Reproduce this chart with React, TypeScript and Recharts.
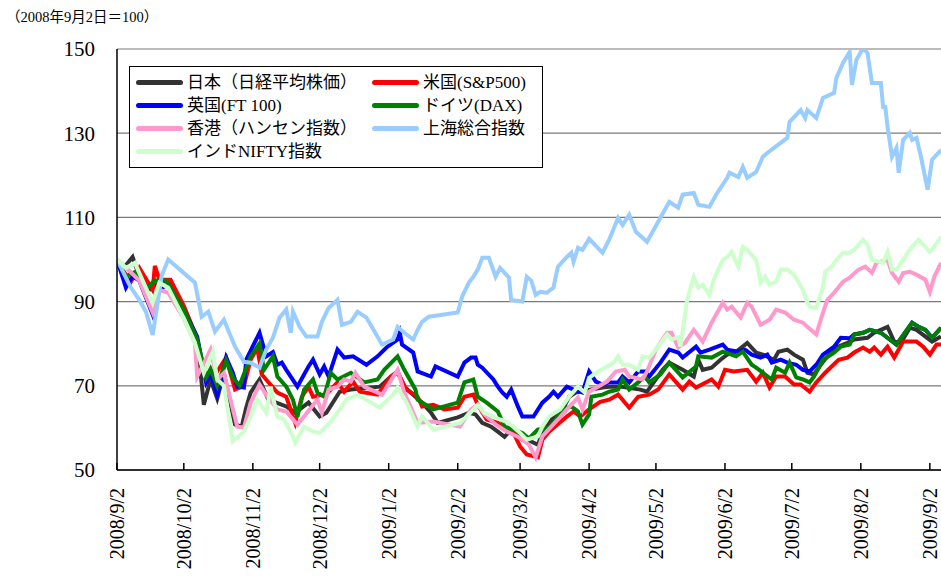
import { LineChart, Line, XAxis, YAxis, CartesianGrid, Legend } from "recharts";

type Pt = [number, number];

// x = days since 2008/9/2, y = index (2008/9/2 = 100)
const tickDays = [0, 30, 61, 91, 122, 153, 181, 212, 242, 273, 303, 334, 365];
const tickLabels = [
  "2008/9/2",
  "2008/10/2",
  "2008/11/2",
  "2008/12/2",
  "2009/1/2",
  "2009/2/2",
  "2009/3/2",
  "2009/4/2",
  "2009/5/2",
  "2009/6/2",
  "2009/7/2",
  "2009/8/2",
  "2009/9/2",
];
const yTicks = [50, 70, 90, 110, 130, 150];

const japan: Pt[] = [
  [0, 100], [3, 98], [7, 100.6], [10, 96], [15, 93], [19, 94.5], [24, 95], [30, 88], [36, 81],
  [39, 65.5], [42, 71.5], [45, 67], [48, 73], [53, 60.8], [56, 60.3], [58, 64.8], [60, 68.4],
  [64, 71.5], [68, 66.7], [76, 65.1], [80, 63.6], [86, 66], [91, 62.7], [94, 63.6], [100, 68.6],
  [105, 69.1], [118, 69.8], [123, 72.2], [126, 73.4], [129, 69.8], [134, 67.4], [137, 66],
  [141, 63.6], [144, 61.2], [153, 62.5], [158, 63.6], [161, 63.2], [164, 61.2], [168, 60.3],
  [171, 59.1], [174, 57.9], [177, 59.6], [182, 57.2], [185, 57], [189, 56], [191, 58.8],
  [196, 62.7], [199, 63.2], [203, 67.4], [206, 68.4], [213, 69.1], [218, 69.6], [221, 69.8],
  [226, 69.8], [235, 69.1], [238, 68.6], [241, 70.8], [245, 73.8], [248, 75.5], [254, 73.8],
  [259, 72.2], [261, 76.2], [263, 73.8], [267, 74.3], [271, 76.2], [274, 77.4], [278, 78.1],
  [283, 80.2], [287, 77.9], [290, 77.4], [295, 76.2], [297, 78.1], [301, 78.6], [304, 77.4],
  [308, 76.2], [310, 73.1], [313, 72.7], [316, 75], [319, 77], [323, 79.1], [328, 80.2],
  [331, 81], [337, 81.4], [340, 82.6], [346, 84], [349, 80.5], [352, 80.2], [356, 83.8],
  [359, 83.3], [366, 80.5], [370, 81.7],
];

const us: Pt[] = [
  [0, 100], [6, 94.5], [10, 98], [16, 92.8], [17, 98.5], [19, 95.2], [24, 95.2], [30, 89],
  [35, 82.6], [40, 71.5], [43, 73], [45, 73.4], [49, 76.7], [53, 69.1], [57, 70], [60, 76.2],
  [63, 79], [65, 72.7], [72, 68.4], [76, 67.4], [80, 61.2], [83, 67.4], [86, 69.8], [88, 67.4],
  [94, 68], [99, 70.8], [102, 68.6], [106, 71], [109, 68.6], [117, 67.9], [123, 72.2],
  [126, 73.1], [130, 69.1], [135, 67.4], [137, 65.1], [142, 65.5], [147, 64.4], [153, 64.8],
  [156, 67.4], [160, 67.9], [162, 65.5], [166, 62], [171, 61.2], [175, 59.6], [178, 58.8],
  [181, 55.6], [184, 53.7], [189, 53], [191, 57.2], [194, 59.1], [202, 62.7], [205, 63.9],
  [208, 62.7], [212, 64.4], [217, 66.2], [221, 66.7], [225, 67.9], [227, 66.7], [230, 64.8],
  [234, 67.4], [239, 67.9], [243, 69.1], [248, 72.7], [254, 69.1], [257, 71], [260, 69.6],
  [267, 71.5], [270, 69.8], [273, 73.8], [277, 73.4], [283, 73.8], [287, 71], [290, 73.1],
  [293, 69.6], [296, 72.2], [300, 72.2], [304, 70.3], [307, 70.3], [311, 68.6], [314, 70.8],
  [318, 73.1], [324, 76.2], [328, 76.7], [331, 77.9], [335, 79.1], [338, 78.1], [340, 79.1],
  [343, 77.4], [346, 79.3], [349, 76.7], [353, 80.5], [359, 80.5], [362, 79.3], [365, 77.4],
  [368, 79.8], [370, 79.8],
];

const uk: Pt[] = [
  [0, 100], [4, 93.3], [7, 96], [10, 95], [16, 86.9], [19, 93], [23, 94], [30, 88], [36, 81.7],
  [40, 70.8], [42, 73], [45, 67.9], [49, 76.7], [52, 73.1], [54, 69.8], [57, 69.6], [58, 76.2],
  [64, 82.6], [67, 77], [70, 78], [72, 75], [74, 75.5], [76, 73.8], [81, 69.8], [84, 72.7],
  [86, 74.6], [88, 76.2], [91, 72.7], [93, 74.6], [95, 72.2], [99, 78.6], [102, 76.7], [106, 77],
  [112, 75], [117, 77], [121, 79.1], [126, 81], [127, 82.6], [128, 79.8], [133, 77.9],
  [135, 73.4], [141, 72.2], [143, 74.6], [153, 72.2], [156, 75.5], [159, 76.7], [161, 76.7],
  [162, 75], [164, 74.3], [169, 71.5], [171, 69.8], [173, 68.4], [175, 67.4], [177, 69.1],
  [180, 65.1], [182, 62.7], [187, 62.7], [191, 66], [194, 67.4], [196, 68.6], [198, 67.4],
  [202, 69.8], [205, 69.1], [209, 68.4], [212, 73.4], [215, 71], [218, 70.3], [221, 70.8],
  [225, 70.8], [227, 72.2], [230, 70.8], [234, 73.4], [237, 73.4], [239, 72.2], [244, 75.5],
  [248, 78.6], [252, 77.9], [254, 76.7], [260, 79.3], [262, 77.9], [266, 78.6], [272, 79.8],
  [274, 78.6], [279, 78.1], [282, 78.6], [285, 77.4], [289, 76.7], [292, 77.4], [294, 75.5],
  [298, 76.2], [301, 75.5], [305, 75], [308, 73.8], [311, 73.4], [314, 75], [317, 77.4],
  [322, 79.3], [325, 81.4], [329, 81.3], [331, 82.2], [335, 82.6], [338, 83.3], [343, 82.6],
  [347, 81], [350, 79.8], [357, 85], [360, 84], [363, 83.3], [366, 81.4], [370, 83.8],
];

const germany: Pt[] = [
  [0, 100], [4, 96], [8, 97], [13, 93], [17, 95], [22, 95], [30, 88], [36, 81], [40, 72], [42, 74],
  [45, 70], [49, 76], [52, 72], [55, 70], [60, 77], [64, 80], [66, 73.8], [70, 77], [72, 72.2],
  [76, 69.8], [79, 66.7], [81, 62.7], [84, 69.1], [88, 71.5], [90, 68.4], [93, 67.4], [96, 73.1],
  [99, 71.5], [105, 73.1], [111, 70.8], [117, 71.5], [120, 73.8], [126, 77], [129, 73.8],
  [134, 69.1], [135, 66.7], [142, 64.4], [153, 66], [156, 70.8], [160, 71.5], [162, 67.4],
  [166, 66], [171, 63.9], [174, 60.3], [178, 59.6], [182, 58.8], [185, 57.5], [189, 59.6],
  [191, 59.6], [194, 60.1], [197, 62], [200, 64.4], [204, 65.1], [207, 63.9], [209, 60.8],
  [212, 63.2], [213, 67.4], [218, 67.9], [221, 68.6], [225, 69.1], [227, 71.5], [230, 69.1],
  [234, 70.8], [237, 72.2], [239, 70.8], [244, 72.7], [248, 75.5], [254, 72], [260, 74.6],
  [261, 77], [267, 76.7], [272, 78.1], [278, 77], [281, 78.1], [285, 75], [287, 74.3],
  [290, 73.1], [294, 71.5], [296, 74.3], [300, 73.1], [302, 75.5], [305, 72], [308, 71.5],
  [311, 70.8], [313, 72.2], [317, 76.2], [322, 77.9], [325, 79.3], [329, 79.8], [331, 82.2],
  [335, 82.6], [338, 83.3], [343, 82.6], [347, 81], [350, 79.8], [357, 85], [360, 84],
  [363, 83.3], [366, 81.4], [370, 83.8],
];

const hongKong: Pt[] = [
  [0, 100], [6, 97.1], [10, 95], [16, 87.4], [19, 92.8], [23, 92.1], [30, 86], [35, 80.2],
  [36, 72.2], [42, 78.6], [45, 71.5], [48, 73], [54, 60.3], [57, 60.1], [60, 66], [64, 70.3],
  [67, 67.9], [72, 64.4], [76, 63.9], [81, 60.8], [84, 62.7], [90, 66.7], [92, 63.6], [95, 69.1],
  [99, 69.8], [102, 71.5], [105, 71], [107, 73.1], [111, 69.8], [119, 67.9], [126, 73.8],
  [129, 68.4], [135, 61.2], [142, 61.5], [154, 60.3], [159, 64.4], [162, 65.5], [165, 63.2],
  [170, 60.8], [175, 59.1], [180, 57.9], [182, 57.2], [185, 56], [188, 53], [191, 58],
  [198, 62], [202, 64.4], [207, 67.2], [209, 64.4], [212, 68.6], [220, 71], [224, 73.4],
  [228, 73.8], [230, 72.2], [236, 71.5], [238, 73.4], [242, 78.6], [247, 82.6], [249, 82.6],
  [252, 79.1], [255, 80.2], [259, 83.3], [263, 80.5], [267, 85], [272, 89.7], [274, 88.1],
  [276, 88.8], [280, 86.2], [283, 89.7], [285, 88.8], [289, 84.5], [293, 85.7], [296, 88.1],
  [300, 87.4], [304, 85.7], [308, 85], [310, 84], [314, 82.2], [317, 87.4], [319, 90.4],
  [322, 92.1], [326, 94.7], [329, 95.7], [333, 97.6], [336, 98.3], [339, 96.8], [341, 99.2],
  [346, 99.9], [348, 96.8], [351, 94.7], [353, 96.8], [356, 97.1], [359, 96.4], [363, 95.2],
  [365, 92.3], [367, 95.9], [370, 99.2],
];

const shanghai: Pt[] = [
  [0, 100], [6, 93.5], [10, 90.4], [13, 87.6], [16, 82.1], [18, 88.8], [20, 96], [23, 100],
  [35, 94.5], [38, 86.4], [41, 87.6], [44, 82.9], [48, 85.7], [53, 79.3], [57, 75.7], [60, 75.5],
  [64, 74.3], [67, 78.6], [70, 81.4], [73, 86.2], [76, 88.1], [78, 82.6], [79, 87.6], [82, 84],
  [85, 81.7], [90, 81.7], [92, 85.2], [95, 88.5], [99, 90.4], [101, 84.5], [105, 85.2],
  [108, 87.6], [112, 86.2], [119, 79.8], [124, 81], [126, 84], [129, 82.6], [133, 81],
  [135, 83.3], [137, 85.2], [140, 86.4], [153, 87.4], [155, 91.2], [158, 94.5], [160, 95.9],
  [162, 97.6], [164, 100.4], [167, 100.4], [170, 95.9], [172, 98], [176, 95.7], [177, 90.4],
  [182, 90], [184, 95.9], [186, 95], [188, 91.6], [190, 92.3], [193, 92.1], [196, 93.3],
  [197, 95.9], [198, 98.3], [202, 100.6], [204, 101.6], [205, 99.5], [207, 102.8], [209, 102.3],
  [212, 104.9], [218, 101.6], [221, 104.7], [225, 109.9], [227, 108.2], [230, 110.6],
  [233, 106.6], [238, 104.2], [244, 109.9], [248, 113.7], [252, 112.3], [254, 115.4],
  [259, 115.8], [261, 113], [266, 112.5], [269, 115.4], [274, 119.4], [275, 120.6], [279, 119.6],
  [281, 122], [283, 119.4], [287, 120.8], [290, 124.4], [292, 125.3], [295, 126.5], [301, 128.9],
  [302, 132.7], [307, 135.5], [309, 133.6], [310, 135.5], [314, 133.6], [317, 138.4],
  [322, 139.6], [323, 143.1], [326, 146.7], [329, 149.3], [330, 141.5], [332, 147.4],
  [335, 150.2], [337, 149], [339, 141.9], [343, 141.9], [344, 136.2], [345, 136.2], [346, 131.5],
  [348, 124.4], [350, 126.5], [351, 120.6], [353, 128.4], [356, 130.1], [357, 128.4],
  [359, 128.9], [361, 124.4], [364, 116.6], [366, 123.7], [370, 126],
];

const india: Pt[] = [
  [0, 100], [4, 98], [8, 99.2], [16, 89.7], [19, 94.5], [23, 93.3], [30, 86], [35, 80.2],
  [39, 73.1], [43, 78.1], [45, 71.5], [48, 70], [52, 56.8], [57, 59.1], [60, 62.7], [63, 66.7],
  [67, 63.6], [69, 69.8], [72, 62.7], [75, 62], [79, 58], [80, 56.5], [84, 60.3], [88, 59.1],
  [91, 58.8], [96, 61.5], [100, 64.4], [103, 66.7], [108, 67.9], [112, 66.7], [118, 64.8],
  [124, 67.9], [126, 69.6], [130, 66], [135, 60.3], [137, 62.7], [142, 59.6], [154, 61.2],
  [158, 63.2], [162, 65.5], [165, 63.6], [172, 62], [176, 61.2], [181, 58.8], [184, 57.2],
  [189, 58], [191, 60.3], [194, 62.7], [199, 64.4], [203, 67.4], [207, 69.8], [210, 68.4],
  [212, 71.9], [216, 73.4], [220, 74.6], [223, 75.5], [225, 77], [227, 75], [230, 75],
  [234, 73.8], [236, 77], [239, 76.7], [243, 79.3], [247, 82.2], [249, 81], [252, 81.5],
  [253, 79.3], [256, 90.4], [259, 95.9], [261, 93.3], [263, 94], [266, 91.6], [268, 95.2],
  [272, 99.9], [274, 100.6], [276, 101.8], [279, 98.3], [281, 103], [283, 102.3], [287, 99.9],
  [289, 94.5], [291, 95.9], [293, 94], [296, 94.7], [298, 97.6], [301, 97.6], [304, 96.4],
  [308, 92.8], [310, 89.7], [311, 88.8], [314, 88.5], [317, 93.5], [318, 97.1], [321, 98.3],
  [323, 99.9], [326, 101.6], [329, 101.6], [331, 102.3], [335, 104.7], [337, 103.5],
  [339, 99.9], [344, 99.2], [346, 101.8], [348, 97.6], [350, 97.6], [353, 99.9], [355, 101.6],
  [357, 103], [360, 104.7], [362, 103.5], [365, 101.8], [366, 102.3], [370, 105.4],
];

// legend is read row by row, two columns
const SERIES = [
  { key: "japan", name: "日本（日経平均株価）", color: "#333333", data: japan },
  { key: "us", name: "米国(S&P500)", color: "#ff0000", data: us },
  { key: "uk", name: "英国(FT 100)", color: "#0000ff", data: uk },
  { key: "germany", name: "ドイツ(DAX)", color: "#008000", data: germany },
  { key: "hk", name: "香港（ハンセン指数）", color: "#ff99cc", data: hongKong },
  { key: "shanghai", name: "上海総合指数", color: "#99ccff", data: shanghai },
  { key: "india", name: "インドNIFTY指数", color: "#ccffcc", data: india },
];

const FONT = "'Liberation Serif', 'Noto Sans CJK JP', serif";

function DateTick({ x, y, payload }: any) {
  const i = tickDays.indexOf(payload.value);
  return (
    <g>
      <line x1={x} y1={y - 7} x2={x} y2={y} stroke="#000" strokeWidth={1.5} />
      <g transform={`translate(${x},${y + 18}) rotate(-90)`}>
        <text x={0} y={0} dy="0.35em" textAnchor="end" fontSize={20} fontFamily={FONT} fill="#000">
          {tickLabels[i] ?? ""}
        </text>
      </g>
    </g>
  );
}

function SeriesLegend() {
  return (
    <div
      style={{
        position: "relative",
        width: 414,
        height: 102,
        boxSizing: "border-box",
        border: "1px solid #000",
        background: "#fff",
        fontFamily: FONT,
        fontSize: 17,
        color: "#000",
      }}
    >
      {SERIES.map((s, i) => {
        const col = i % 2;
        const row = Math.floor(i / 2);
        const left = col === 0 ? 6 : 242;
        const cy = 16 + row * 23;
        return (
          <div key={s.key}>
            <div
              style={{
                position: "absolute",
                left,
                top: cy - 3,
                width: 47,
                height: 5,
                borderRadius: 2.5,
                background: s.color,
              }}
            />
            <div
              style={{
                position: "absolute",
                left: left + 51,
                top: cy - 12,
                lineHeight: "24px",
                whiteSpace: "nowrap",
              }}
            >
              {s.name}
            </div>
          </div>
        );
      })}
    </div>
  );
}

export default function App() {
  return (
    <div
      style={{
        position: "fixed",
        left: 0,
        top: 0,
        width: 941,
        height: 578,
        overflow: "hidden",
        background: "#fff",
        fontFamily: FONT,
      }}
    >
      <div
        style={{
          position: "absolute",
          left: 6,
          top: 8,
          fontSize: 14.5,
          lineHeight: "18px",
          whiteSpace: "nowrap",
        }}
      >
        （2008年9月2日＝100）
      </div>
      <LineChart width={941} height={578} margin={{ top: 49, right: 0, bottom: 0, left: 0 }}>
        <CartesianGrid vertical={false} stroke="#7a7a7a" strokeWidth={1.2} />
        <XAxis
          dataKey="d"
          type="number"
          domain={[0, 370]}
          ticks={tickDays}
          interval={0}
          height={108}
          tickSize={0}
          tickMargin={0}
          tickLine={false}
          axisLine={{ stroke: "#000", strokeWidth: 1.5 }}
          tick={<DateTick />}
          allowDataOverflow
        />
        <YAxis
          type="number"
          domain={[50, 150]}
          ticks={yTicks}
          interval={0}
          width={117}
          tickSize={0}
          tickMargin={22}
          tickLine={false}
          axisLine={{ stroke: "#000", strokeWidth: 1.5 }}
          tick={{ fontSize: 21, fill: "#000", fontFamily: FONT }}
          allowDataOverflow
        />
        {SERIES.map((s) => (
          <Line
            key={s.key}
            name={s.name}
            data={s.data.map(([d, v]) => ({ d, v }))}
            dataKey="v"
            type="linear"
            stroke={s.color}
            strokeWidth={4}
            dot={false}
            activeDot={false}
            isAnimationActive={false}
          />
        ))}
        <Legend
          layout="horizontal"
          align="center"
          verticalAlign="middle"
          wrapperStyle={{ left: 129, top: 66, width: 414, height: 102 }}
          content={() => <SeriesLegend />}
        />
      </LineChart>
    </div>
  );
}
